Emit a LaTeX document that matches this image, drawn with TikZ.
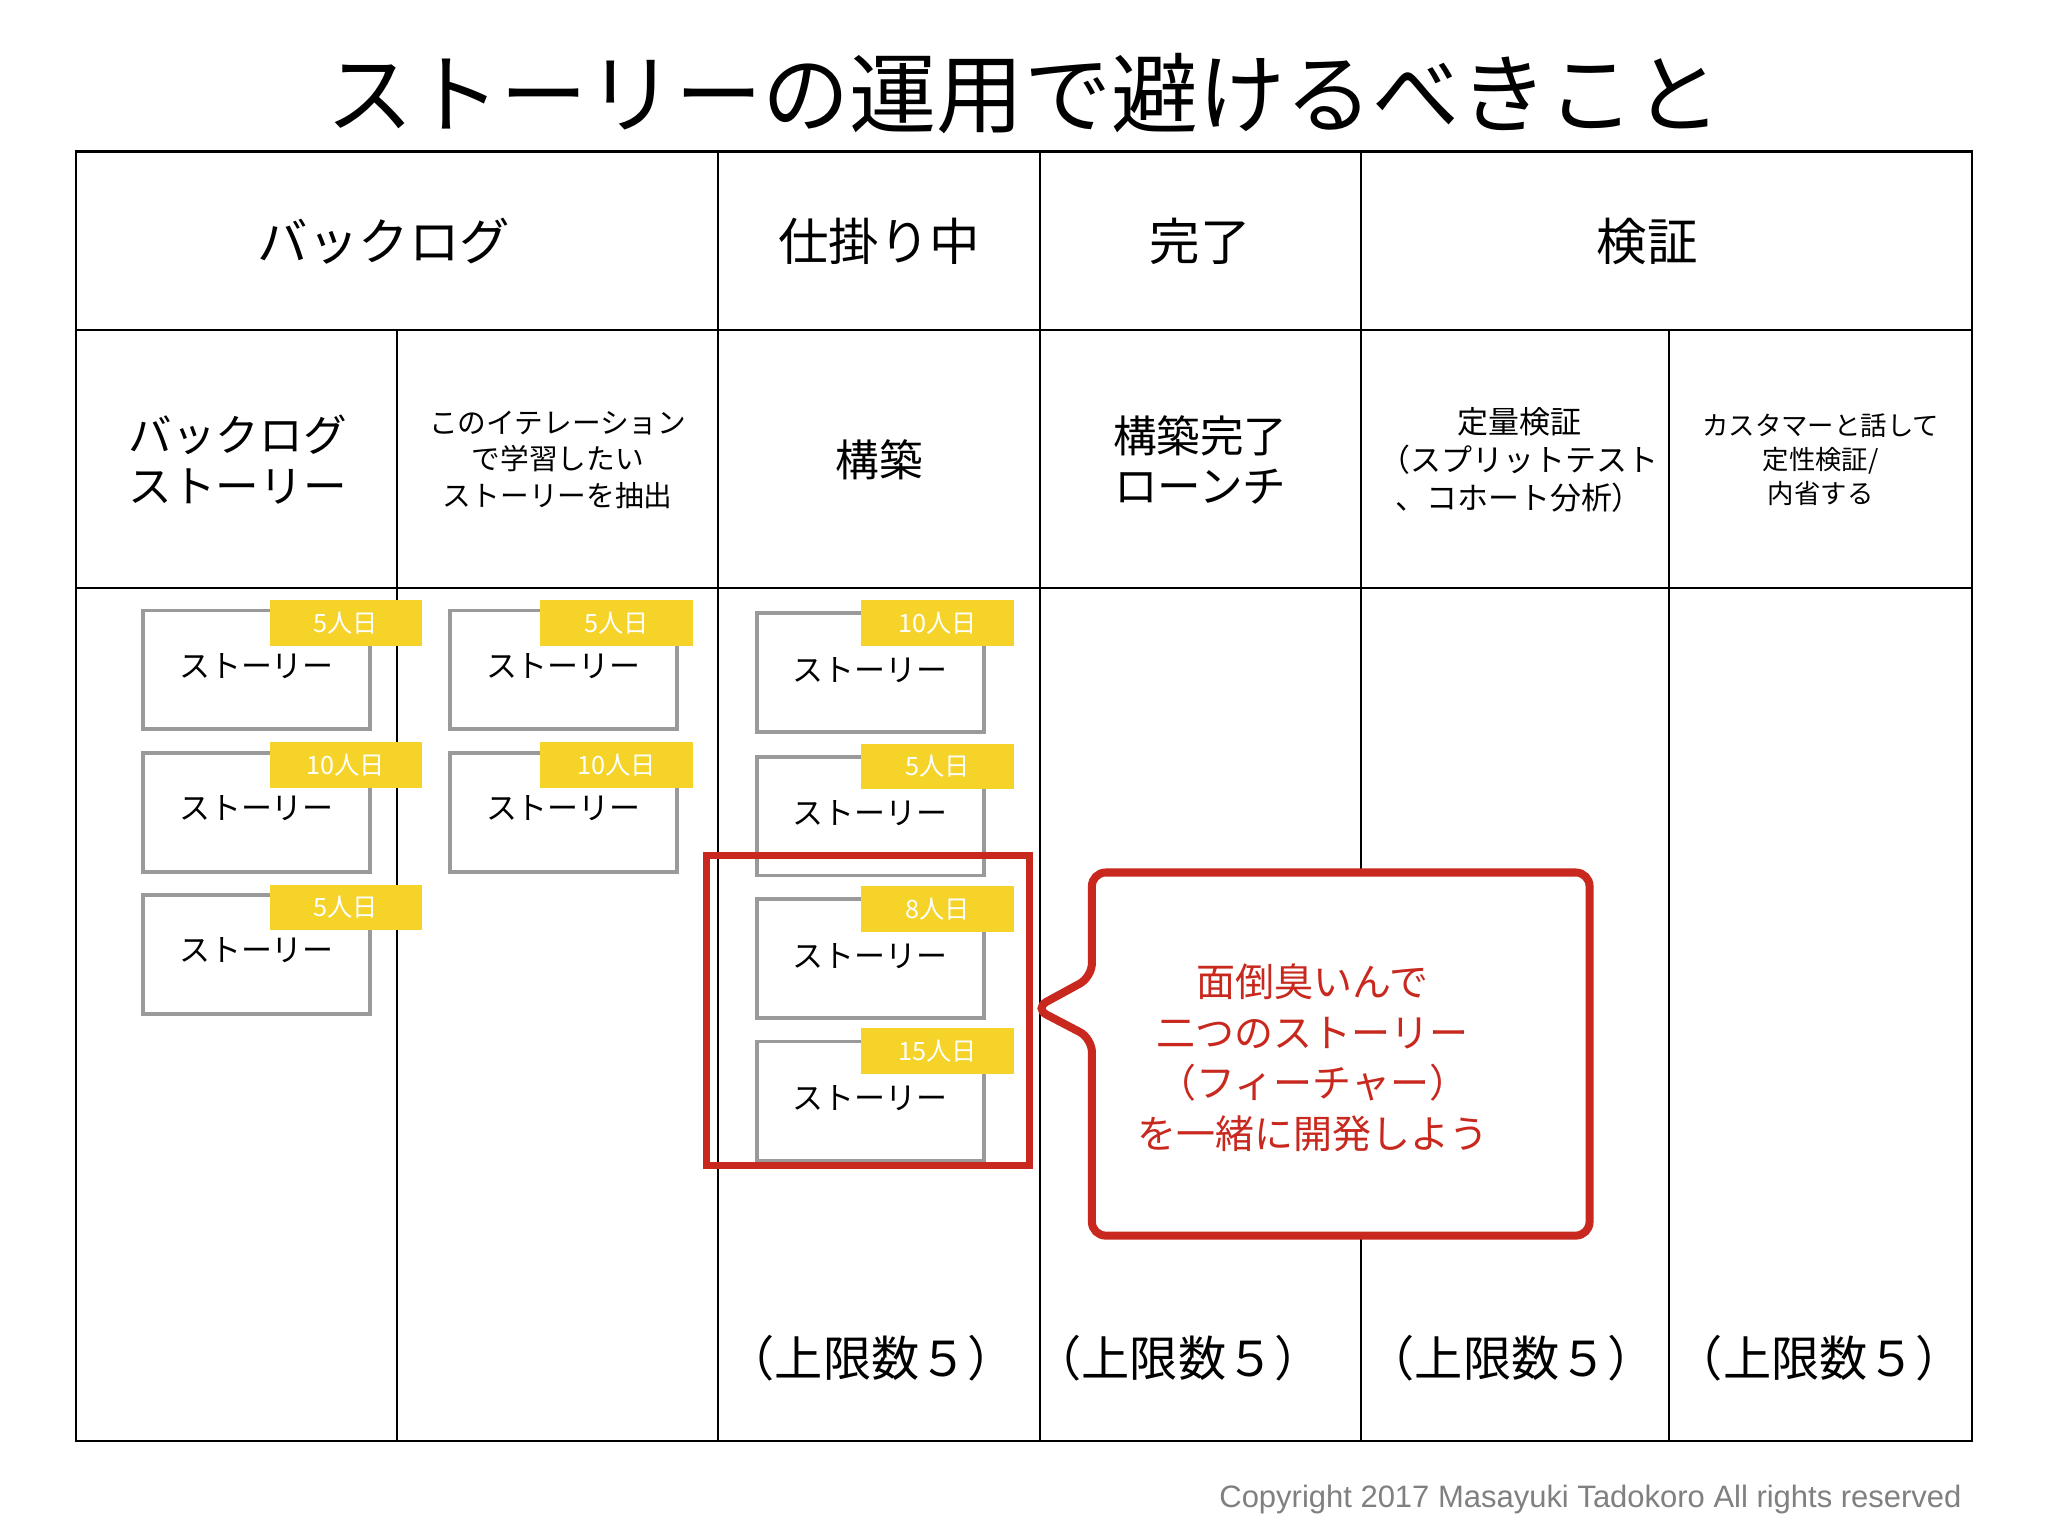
\documentclass[tikz,border=0pt]{standalone}
\usepackage{fontspec}
\setmainfont{Noto Sans CJK JP}
\newfontfamily\latinf{Liberation Sans}
\definecolor{cardgray}{HTML}{9A9A9A}
\definecolor{tagyellow}{HTML}{F5D328}
\definecolor{calred}{HTML}{C8281E}
\begin{document}
\begin{tikzpicture}[x=0.02cm,y=-0.02cm,
  grid/.style={line width=0.9pt,black},
  card/.style={draw=cardgray,line width=1.6pt,fill=white,minimum width=3.48cm,minimum height=1.82cm,anchor=north west,font=\fontsize{13.5}{15}\selectfont,inner sep=0pt},
  tag/.style={fill=tagyellow,text=white,minimum width=2.34cm,minimum height=0.7cm,anchor=north west,font=\fontsize{11}{12}\selectfont,inner sep=0pt},
  head/.style={font=\fontsize{22}{24}\selectfont},
  sub/.style={align=center,font=\fontsize{19}{22}\selectfont},
  small/.style={align=center,font=\fontsize{12.5}{16}\selectfont},
  limit/.style={font=\fontsize{21}{24}\selectfont}]
\useasboundingbox (0,0) rectangle (1568,1176);
\node (title) at (784,72) {\fontsize{38}{42}\selectfont ストーリーの運用で避けるべきこと};
\draw[grid] (58,116) rectangle (1510,1103);
\draw[grid] (58,253) -- (1510,253);
\draw[grid] (58,450) -- (1510,450);
\foreach \x in {550,796,1042} \draw[grid] (\x,116) -- (\x,1103);
\foreach \x in {304,1278} \draw[grid] (\x,253) -- (\x,1103);
\node[head] (h1) at (294,185) {バックログ};
\node[head] (h2) at (673,185) {仕掛り中};
\node[head] (h3) at (919,185) {完了};
\node[head] (h4) at (1261,185) {検証};
\node[sub] (s1) at (182,352) {バックログ\\ストーリー};
\node[small] (s2) at (427,352) {このイテレーション\\で学習したい\\ストーリーを抽出};
\node[sub] (s3) at (673,352) {構築};
\node[sub] (s4) at (919,352) {構築完了\\ローンチ};
\node[small,font=\fontsize{13.5}{16.5}\selectfont] (s5) at (1163,352) {定量検証\\（スプリットテスト\\、コホート分析）};
\node[small,font=\fontsize{11.5}{15}\selectfont] (s6) at (1394,352) {カスタマーと話して\\定性検証/\\内省する};
% column 1
\foreach \y/\t [count=\i] in {466/5人日,575/10人日,684/5人日}{
  \node[card] (a\i) at (108,\y) {\raisebox{0.15cm}{ストーリー}};
  \node[tag] (ta\i) at (206,\y-7) {\t};
}
\foreach \y/\t [count=\i] in {466/5人日,575/10人日}{
  \node[card] (b\i) at (343,\y) {\raisebox{0.15cm}{ストーリー}};
  \node[tag] (tb\i) at (413,\y-7) {\t};
}
\foreach \y/\t [count=\i] in {468/10人日,578/5人日,687/8人日,796/15人日}{
  \node[card] (c\i) at (578,\y) {\raisebox{0.1cm}{ストーリー}};
  \node[tag] (tc\i) at (659,\y-9) {\t};
}
\draw[calred,line width=3pt] (541,655) rectangle (788,892);
\draw[calred,line width=3.5pt,rounded corners=6pt,fill=white] (836,668) -- (1217,668) -- (1217,946) -- (836,946) -- (836,795) -- (792,772) -- (836,748) -- cycle;
\node[align=center,text=calred,font=\fontsize{17}{22}\selectfont] (msg) at (1005,810) {面倒臭いんで\\二つのストーリー\\（フィーチャー）\\を一緒に開発しよう};
\node[limit] (l1) at (667,1040) {（上限数５）};
\node[limit] (l2) at (902,1040) {（上限数５）};
\node[limit] (l3) at (1157,1040) {（上限数５）};
\node[limit] (l4) at (1393,1040) {（上限数５）};
\node[anchor=east,text=gray,font=\latinf\fontsize{13.5}{15}\selectfont] (copy) at (1508,1148) {Copyright 2017 Masayuki Tadokoro All rights reserved};
\end{tikzpicture}
\end{document}
